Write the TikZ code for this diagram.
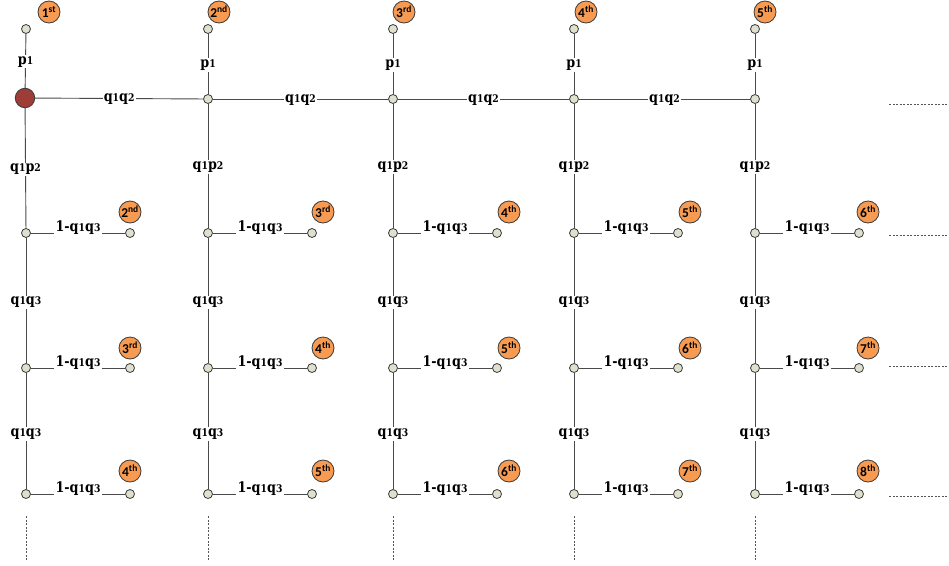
\documentclass[tikz,border=0pt]{standalone}
\usepackage{fontspec}
\newfontfamily\badgefont{Carlito}
\newfontfamily\lblfont{DejaVu Serif}[FakeStretch=0.88]
\newcommand{\osn}[1]{{\fontsize{10.5}{12}\selectfont #1}}
\newcommand{\ordsuf}[1]{\ifcase#1\or st\or nd\or rd\else th\fi}
\newcommand{\badgetxt}[1]{#1\textsuperscript{\ordsuf{#1}}}
\definecolor{linegray}{HTML}{4A4A4A}
\definecolor{dotfill}{HTML}{DDE1CD}
\definecolor{dotborder}{HTML}{3A3A3A}
\definecolor{startred}{HTML}{9E3C37}
\definecolor{badgeorange}{HTML}{F79A52}
\definecolor{dashgray}{HTML}{555555}
\begin{document}
\begin{tikzpicture}[x=1pt,y=-1pt,
  edge/.style={draw=linegray, line width=0.9pt},
  dot/.style={circle, draw=dotborder, fill=dotfill, line width=0.8pt, minimum size=9pt, inner sep=0pt},
  startdot/.style={circle, draw=dotborder, fill=startred, line width=0.8pt, minimum size=19.5pt, inner sep=0pt},
  badge/.style={circle, draw=dotborder, fill=badgeorange, line width=0.8pt, minimum size=22pt, inner sep=0pt,
    font=\badgefont\bfseries\fontsize{13.5}{14}\selectfont},
  lbl/.style={fill=white, inner sep=1.2pt, font=\lblfont\bfseries\fontsize{14.5}{16}\selectfont},
  more/.style={draw=dashgray, dash pattern=on 2.2pt off 1.3pt, line width=0.7pt}]
\useasboundingbox (0,0) rectangle (949,565);
\foreach \i/\x/\tb/\rb in {1/26/23/104, 2/208/11/115, 3/393/11/116, 4/574/12/116, 5/755/10/113}{
  \node[dot] (t\i) at (\x,29) {};
  \pgfmathtruncatemacro{\na}{\i}
  \pgfmathtruncatemacro{\nb}{\i+1}
  \pgfmathtruncatemacro{\nc}{\i+2}
  \pgfmathtruncatemacro{\nd}{\i+3}
  \node[badge] (bt\i) at (\x+\tb,12) {\badgetxt{\na}};
  \ifnum\i=1
    \node[startdot] (m\i) at (\x-1,98) {};
  \else
    \node[dot] (m\i) at (\x,99) {};
  \fi
  \node[dot] (a\i) at (\x,233) {};
  \node[dot] (b\i) at (\x,368) {};
  \node[dot] (c\i) at (\x,494) {};
  \node[dot] (ae\i) at (\x+104,233) {};
  \node[dot] (be\i) at (\x+104,368) {};
  \node[dot] (ce\i) at (\x+104,494) {};
  \node[badge] (ba\i) at (\x+\rb,212) {\badgetxt{\nb}};
  \node[badge] (bb\i) at (\x+\rb,348) {\badgetxt{\nc}};
  \node[badge] (bc\i) at (\x+\rb,471) {\badgetxt{\nd}};
  \draw[edge] (t\i) -- node[lbl, yshift=-1pt] {p\osn{1}} (m\i);
  \draw[edge] (m\i) -- node[lbl, yshift=-1pt] {q\osn{1}p\osn{2}} (a\i);
  \draw[edge] (a\i) -- node[lbl, yshift=-2pt] {q\osn{1}q\osn{3}} (b\i);
  \draw[edge] (b\i) -- node[lbl, yshift=-3pt] {q\osn{1}q\osn{3}} (c\i);
  \draw[edge] (a\i) -- node[lbl, yshift=5pt] {1-q\osn{1}q\osn{3}} (ae\i);
  \draw[edge] (b\i) -- node[lbl, yshift=5pt] {1-q\osn{1}q\osn{3}} (be\i);
  \draw[edge] (c\i) -- node[lbl, yshift=5pt] {1-q\osn{1}q\osn{3}} (ce\i);
  \coordinate (vd\i) at (\x,516);
  \coordinate (ve\i) at (\x,560);
  \draw[more] (vd\i) -- (ve\i);
}
\foreach \j/\k in {1/2,2/3,3/4,4/5}{
  \draw[edge] (m\j) -- node[lbl, yshift=-1pt] {q\osn{1}q\osn{2}} (m\k);
}
\foreach \n/\y in {1/104,2/235,3/366,4/496}{
  \coordinate (hs\n) at (889,\y);
  \coordinate (he\n) at (949,\y);
  \draw[more] (hs\n) -- (he\n);
}
\end{tikzpicture}
\end{document}
